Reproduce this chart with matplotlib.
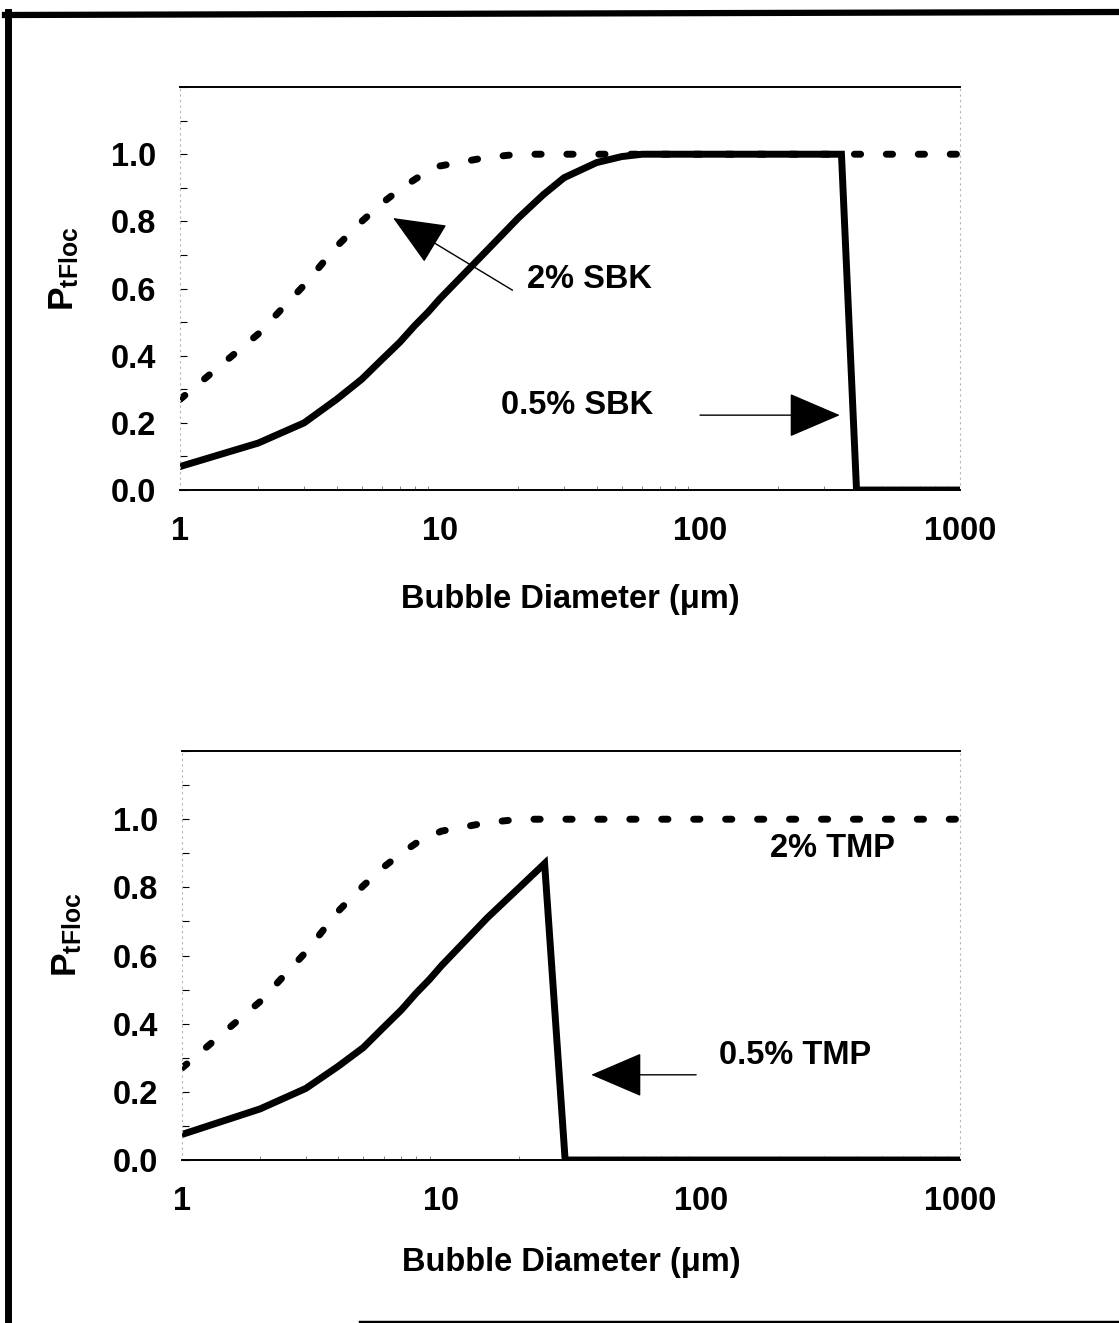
import numpy as np
import matplotlib
matplotlib.use("Agg")
import matplotlib.pyplot as plt
from matplotlib.lines import Line2D
from matplotlib.ticker import MultipleLocator, FixedLocator, FixedFormatter, LogLocator, NullFormatter

plt.rcParams['font.family'] = ['Liberation Sans', 'DejaVu Sans']
plt.rcParams['font.weight'] = 'bold'
plt.rcParams['mathtext.fontset'] = 'custom'
plt.rcParams['mathtext.bf'] = 'Liberation Sans:bold'
plt.rcParams['mathtext.rm'] = 'Liberation Sans:bold'

# bubble diameter (um) and P_tFloc
sbk_2_x = [1, 2, 3, 4, 5, 6, 7, 8, 9, 10, 15, 20, 30, 100, 1000]
sbk_2_y = [0.27, 0.465, 0.61, 0.725, 0.80, 0.855, 0.895, 0.925, 0.95, 0.965, 0.99, 1.0, 1.0, 1.0, 1.0]

sbk_05_x = [1, 2, 3, 4, 5, 6, 7, 8, 9, 10, 15, 20, 25, 30, 40, 50, 60, 100, 200, 350, 400, 1000]
sbk_05_y = [0.07, 0.14, 0.20, 0.27, 0.33, 0.39, 0.44, 0.49, 0.53, 0.57, 0.71, 0.81, 0.88, 0.93, 0.975, 0.993,
            1.0, 1.0, 1.0, 1.0, 0.0, 0.0]

tmp_2_x = [1, 2, 3, 4, 5, 6, 7, 8, 9, 10, 15, 20, 30, 100, 1000]
tmp_2_y = [0.27, 0.465, 0.61, 0.73, 0.805, 0.86, 0.90, 0.93, 0.95, 0.965, 0.99, 1.0, 1.0, 1.0, 1.0]

tmp_05_x = [1, 2, 3, 4, 5, 6, 7, 8, 9, 10, 15, 20, 25, 30, 1000]
tmp_05_y = [0.075, 0.15, 0.21, 0.275, 0.33, 0.39, 0.44, 0.49, 0.53, 0.57, 0.71, 0.80, 0.87, 0.0, 0.0]

x_ticks = [1, 10, 100, 1000]
x_labels = ["1", "10", "100", "1000"]
y_ticks = [0.0, 0.2, 0.4, 0.6, 0.8, 1.0]
y_labels = ["0.0", "0.2", "0.4", "0.6", "0.8", "1.0"]

FS = 23.5
LW = 5

fig = plt.figure(figsize=(11.19, 13.23), dpi=100)
ax1 = fig.add_axes([0.1609, 0.6296, 0.6970, 0.3046])
ax2 = fig.add_axes([0.1627, 0.1232, 0.6953, 0.3091])


def style_axes(ax):
    ax.set_xscale('log')
    ax.set_xlim(1, 1000)
    ax.set_ylim(0, 1.2)
    ax.xaxis.set_major_locator(FixedLocator(x_ticks))
    ax.xaxis.set_major_formatter(FixedFormatter(x_labels))
    ax.xaxis.set_minor_locator(LogLocator(base=10, subs=np.arange(2, 10)))
    ax.xaxis.set_minor_formatter(NullFormatter())
    ax.yaxis.set_major_locator(FixedLocator(y_ticks))
    ax.yaxis.set_major_formatter(FixedFormatter(y_labels))
    ax.yaxis.set_minor_locator(MultipleLocator(0.1))
    ax.tick_params(axis='x', which='major', length=0, pad=19, labelsize=FS)
    ax.tick_params(axis='x', which='minor', direction='in', length=3, width=0.7, color='0.5')
    ax.tick_params(axis='y', which='both', direction='in', length=5, width=0.8, pad=17, labelsize=FS)
    for lab in ax.get_xticklabels() + ax.get_yticklabels():
        lab.set_fontweight('bold')
    for s in ['top', 'bottom']:
        ax.spines[s].set_linewidth(1.4)
    for s in ['left', 'right']:
        ax.spines[s].set_linewidth(0.8)
        ax.spines[s].set_color('0.7')
        ax.spines[s].set_linestyle((0, (1, 4)))
    ax.set_xlabel("Bubble Diameter (\u03bcm)", fontsize=FS, fontweight='bold')
    ax.text(-0.148, 0.55, r"$\mathbf{P_{tFloc}}$", transform=ax.transAxes, rotation=90,
            ha='center', va='center', fontsize=FS + 2)


dash = dict(color='black', lw=LW, linestyle=(0, (0.9, 3.7)), dash_capstyle='round')
solid = dict(color='black', lw=LW, solid_joinstyle='miter', solid_capstyle='round')
arrow = dict(arrowstyle='-|>,head_length=1.4,head_width=0.6', color='black', lw=1.0,
             shrinkA=0, shrinkB=0, mutation_scale=24)

# top panel: SBK
style_axes(ax1)
ax1.plot(sbk_2_x, sbk_2_y, **dash)
ax1.plot(sbk_05_x, sbk_05_y, **solid)
ax1.annotate("", xy=(6.6, 0.81), xytext=(19, 0.595), arrowprops=arrow)
ax1.text(37.6, 0.628, "2% SBK", fontsize=FS, fontweight='bold', ha='center', va='center')
ax1.annotate("", xy=(345, 0.223), xytext=(100, 0.223), arrowprops=arrow)
ax1.text(33.6, 0.253, "0.5% SBK", fontsize=FS, fontweight='bold', ha='center', va='center')
ax1.xaxis.set_label_coords(0.5, -0.232)

# bottom panel: TMP
style_axes(ax2)
ax2.plot(tmp_2_x, tmp_2_y, **dash)
ax2.plot(tmp_05_x, tmp_05_y, **solid)
ax2.text(322, 0.915, "2% TMP", fontsize=FS, fontweight='bold', ha='center', va='center')
ax2.annotate("", xy=(37.8, 0.25), xytext=(96, 0.25), arrowprops=arrow)
ax2.text(232, 0.308, "0.5% TMP", fontsize=FS, fontweight='bold', ha='center', va='center')
ax2.xaxis.set_label_coords(0.5, -0.212)

# page frame (scanned border)
W, H = 1119.0, 1323.0
fig.add_artist(Line2D([5 / W, 1.0], [1 - 15 / H, 1 - 12 / H], transform=fig.transFigure,
                      color='black', lw=4.5))
fig.add_artist(Line2D([8 / W, 8 / W], [1 - 12 / H, 0.0], transform=fig.transFigure,
                      color='black', lw=5))
fig.add_artist(Line2D([360 / W, 1.0], [1.5 / H, 1.5 / H], transform=fig.transFigure,
                      color='black', lw=2.5))

fig.savefig("out.png", dpi=100)
